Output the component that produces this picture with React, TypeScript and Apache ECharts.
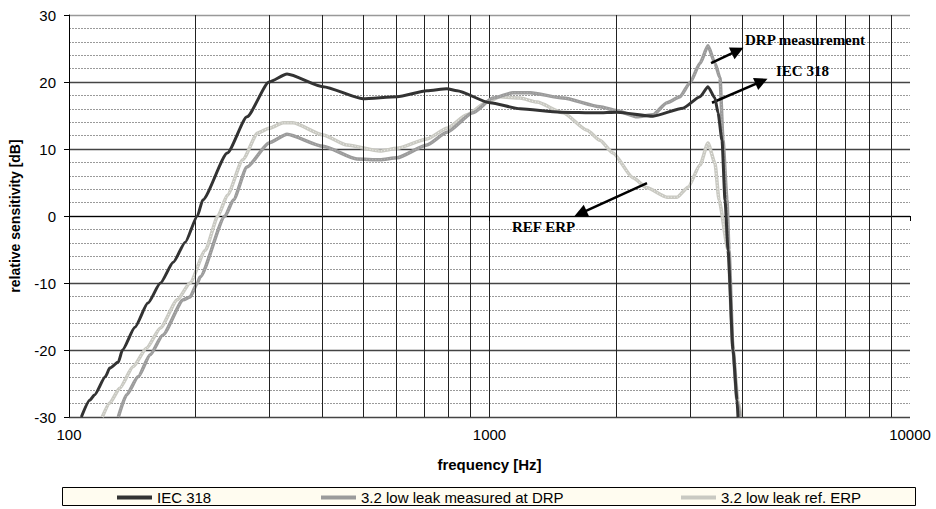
import React, { useEffect, useRef } from "react";
import * as echarts from "echarts";

// ---- data (frequency in Hz, level in dB) ----
const iecFreq = [107, 112, 115, 122, 125, 131, 134, 143.5, 154, 165, 177, 189, 202, 208, 238, 265, 299, 330, 402, 500, 603, 710, 792, 837, 1003, 1182, 1472, 1802, 2010, 2448, 2885, 3167, 3308, 3437, 3495, 3572, 3631, 3692, 3794, 3878, 3899];
const iecDb = [-30, -27.5, -26.7, -24.0, -22.7, -21.8, -20.0, -16.6, -13.0, -10.0, -6.9, -3.9, 0.0, 2.4, 9.4, 14.8, 20.0, 21.2, 19.3, 17.5, 17.8, 18.7, 19.0, 18.7, 16.9, 16.0, 15.5, 15.4, 15.5, 14.9, 16.1, 17.8, 19.3, 17.6, 15.4, 11.3, 2.4, -5.1, -20.0, -27.5, -30];

const drpFreq = [131, 137, 146, 156, 167, 187, 194, 202, 205, 235, 246, 265, 299, 330, 402, 484, 549, 603, 710, 792, 913, 1019, 1137, 1249, 1496, 1831, 2010, 2243, 2448, 2643, 2838, 2999, 3167, 3308, 3437, 3533, 3592, 3671, 3712, 3794, 3878, 3942];
const drpDb = [-30, -26.7, -24.0, -20.7, -17.8, -12.5, -12.1, -10.0, -9.1, 0.0, 2.4, 7.3, 10.9, 12.2, 10.4, 8.5, 8.4, 8.7, 10.6, 12.5, 15.4, 17.6, 18.4, 18.4, 17.6, 16.3, 15.7, 14.8, 15.1, 16.9, 17.8, 19.9, 22.8, 25.4, 22.8, 20.6, 11.3, 2.4, -5.1, -20.0, -27.5, -30];

const erpFreq = [120, 125, 132, 142, 153, 165, 181, 194, 211, 226, 238, 259, 281, 299, 323, 341, 402, 458, 549, 603, 710, 792, 884, 986, 1059, 1182, 1297, 1496, 1706, 1831, 1966, 2194, 2369, 2643, 2792, 2966, 3167, 3308, 3437, 3514, 3692, 3794, 3899, 3964];
const erpDb = [-30, -27.9, -25.7, -22.5, -19.7, -16.7, -12.5, -10.0, -5.1, 0.0, 3.1, 8.4, 12.4, 13.1, 13.9, 13.9, 12.1, 10.6, 9.7, 10.1, 11.5, 13.1, 15.1, 17.0, 17.8, 17.6, 17.0, 15.4, 12.8, 11.3, 9.4, 5.7, 4.2, 2.8, 2.8, 4.3, 7.6, 10.9, 7.9, 2.4, -5.1, -20.0, -27.5, -30];

const seriesNames = ["IEC 318", "3.2 low leak measured at DRP", "3.2 low leak ref. ERP"];
const xTickLabels = [100, 1000, 10000];
const minorGridFreqs = [200, 300, 400, 500, 600, 700, 800, 900, 2000, 3000, 4000, 5000, 6000, 7000, 8000, 9000];

// annotation arrows: [startFreq, startDb, endFreq, endDb]
const arrowDrp = [3364, 22.8, 3890, 24.7];
const arrowIec = [3382, 16.9, 4436, 20.1];
const arrowErp = [2369, 4.9, 1646, 0.4];

const zip = (f: number[], d: number[]) => f.map((v, i) => [v, d[i]]);

export default function App() {
  const ref = useRef<HTMLDivElement>(null);
  useEffect(() => {
    if (!ref.current) return;
    const chart = echarts.init(ref.current, undefined, { renderer: "svg" });
    const sans = "'Liberation Sans', Arial, sans-serif";
    const serifBold = "bold 15px 'Liberation Serif', 'Times New Roman', serif";
    const arrowLine = (a: number[]) => [{ coord: [a[0], a[1]], symbol: "none" }, { coord: [a[2], a[3]], symbol: "triangle" }];
    const legendBase = {
      top: 489,
      padding: 0,
      icon: "rect",
      itemWidth: 35,
      itemHeight: 4,
      itemGap: 5,
      z: 20,
      selectedMode: false,
      textStyle: { fontFamily: sans, fontSize: 15, color: "#000", lineHeight: 17 },
    };
    const curve = {
      type: "line",
      showSymbol: false,
      smooth: 0.2,
      smoothMonotone: "x",
    };
    chart.setOption({
      animation: false,
      backgroundColor: "#fff",
      grid: { left: 69, top: 15, right: 26, bottom: 92, containLabel: false },
      legend: [
        { ...legendBase, left: 117, data: [seriesNames[0]] },
        { ...legendBase, left: 321, data: [seriesNames[1]] },
        { ...legendBase, left: 681, data: [seriesNames[2]] },
      ],
      xAxis: {
        type: "log",
        logBase: 10,
        min: 100,
        max: 10000,
        name: "frequency [Hz]",
        nameLocation: "middle",
        nameGap: 40,
        nameTextStyle: { fontFamily: sans, fontSize: 15, fontWeight: "bold", color: "#000" },
        axisLine: { show: true, lineStyle: { color: "#000", width: 1 } },
        axisTick: { show: true, length: 5, lineStyle: { color: "#000" } },
        axisLabel: {
          fontFamily: sans,
          fontSize: 15,
          color: "#000",
          margin: 10,
          formatter: (v: number) => {
            const r = Math.round(v);
            return xTickLabels.includes(r) ? String(r) : "";
          },
        },
        splitLine: { show: true, showMinLine: false, showMaxLine: false, lineStyle: { color: "#222", width: 1 } },
      },
      yAxis: {
        type: "value",
        min: -30,
        max: 30,
        interval: 10,
        name: "relative sensitivity [dB]",
        nameLocation: "middle",
        nameGap: 47,
        nameTextStyle: { fontFamily: sans, fontSize: 14, fontWeight: "bold", color: "#000" },
        axisLine: { show: true, lineStyle: { color: "#000", width: 1 } },
        axisTick: { show: true, length: 5, lineStyle: { color: "#000" } },
        axisLabel: { fontFamily: sans, fontSize: 15, color: "#000", margin: 13 },
        splitLine: { show: true, lineStyle: { color: ["#444", "#444", "#444", "#444", "#444", "#444", "#999"], width: 1.3 } },
        minorTick: { show: false, splitNumber: 5 },
        minorSplitLine: { show: true, lineStyle: { color: "#9a9a9a", width: 1, type: [2, 1] } },
      },
      graphic: [
        { type: "rect", shape: { x: 62.5, y: 487.5, width: 853, height: 18 }, style: { fill: "#fffcf0", stroke: "#000", lineWidth: 1 }, z: 0 },
        { type: "text", x: 745, y: 40, style: { text: "DRP measurement", font: serifBold, fill: "#000", verticalAlign: "middle" }, z: 100 },
        { type: "text", x: 776, y: 71, style: { text: "IEC 318", font: serifBold, fill: "#000", verticalAlign: "middle" }, z: 100 },
        { type: "text", x: 512, y: 227, style: { text: "REF ERP", font: serifBold, fill: "#000", verticalAlign: "middle" }, z: 100 },
      ],
      series: [
        {
          name: "_grid",
          type: "line",
          data: [],
          z: 1,
          silent: true,
          markLine: {
            silent: true,
            symbol: "none",
            label: { show: false },
            lineStyle: { color: "#222", width: 1, type: "solid" },
            data: minorGridFreqs.map((f) => ({ xAxis: f })),
          },
        },
        {
          ...curve,
          name: seriesNames[2],
          data: zip(erpFreq, erpDb),
          color: "#c9c9c2",
          lineStyle: { width: 3.5, color: "#c9c9c2" },
          z: 3,
        },
        {
          ...curve,
          name: "_erpTexture",
          data: zip(erpFreq, erpDb),
          silent: true,
          lineStyle: { width: 1, color: "#f2f2ee", type: [1, 2] },
          z: 3,
        },
        {
          ...curve,
          name: seriesNames[1],
          data: zip(drpFreq, drpDb),
          color: "#9b9b9b",
          lineStyle: { width: 3.5, color: "#9b9b9b" },
          z: 4,
        },
        {
          ...curve,
          name: "_drpTexture",
          data: zip(drpFreq, drpDb),
          silent: true,
          lineStyle: { width: 1, color: "#b4b4b4", type: [1, 2] },
          z: 4,
        },
        {
          ...curve,
          name: seriesNames[0],
          data: zip(iecFreq, iecDb),
          color: "#333333",
          lineStyle: { width: 3, color: "#333333" },
          z: 5,
        },
        {
          name: "_arrows",
          type: "line",
          data: [],
          z: 10,
          silent: true,
          markLine: {
            silent: true,
            symbolSize: 13,
            label: { show: false },
            lineStyle: { color: "#000", width: 2.5, type: "solid" },
            itemStyle: { color: "#000" },
            data: [arrowLine(arrowDrp), arrowLine(arrowIec), arrowLine(arrowErp)],
          },
        },
      ],
    });
    return () => chart.dispose();
  }, []);
  return <div ref={ref} style={{ position: "absolute", left: 0, top: 0, width: 936, height: 509 }} />;
}
